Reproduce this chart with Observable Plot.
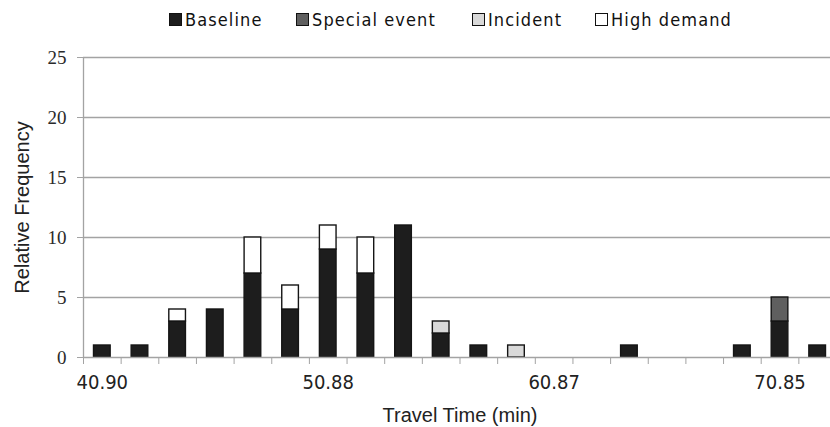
<!DOCTYPE html>
<html>
<head>
<meta charset="utf-8">
<script src="https://cdn.jsdelivr.net/npm/d3@7"></script>
<script src="https://cdn.jsdelivr.net/npm/@observablehq/plot@0.6"></script>
<style>
  html, body { margin: 0; padding: 0; background: #fff; }
  #wrap { width: 830px; height: 427px; overflow: hidden; position: relative; }
  #legend { position: relative; height: 38px; width: 830px; font-family: "DejaVu Sans Condensed", "DejaVu Sans", sans-serif; font-size: 18px; color: #111; }
  .item { position: absolute; top: 6px; display: flex; align-items: center; height: 26px; letter-spacing: 1.1px; }
  .sw { width: 11px; height: 11px; border: 1px solid #111; margin-right: 3px; box-sizing: content-box; }
  svg { display: block; overflow: hidden; }
</style>
</head>
<body>
<div id="wrap">
  <div id="legend"></div>
  <div id="chart"></div>
</div>
<script>
// ---- data ----
const bins = ["40.90","42.56","44.23","45.89","47.55","49.22","50.88","52.54","54.21","55.87",
              "57.54","59.20","60.87","62.53","64.19","65.86","67.52","69.18","70.85","72.51"];
const tickLabels = ["40.90","50.88","60.87","70.85"];
const seriesNames = ["Baseline","Special event","Incident","High demand"];
const baseline     = [1,1,3,4,7,4,9,7,11,2,1,0,0,0,1,0,0,1,3,1];
const specialEvent = [0,0,0,0,0,0,0,0,0,0,0,0,0,0,0,0,0,0,2,0];
const incident     = [0,0,0,0,0,0,0,0,0,1,0,1,0,0,0,0,0,0,0,0];
const highDemand   = [0,0,1,0,3,2,2,3,0,0,0,0,0,0,0,0,0,0,0,0];
const seriesColors = ["#1d1d1d","#5f5f5f","#d9d9d9","#ffffff"];
const yTicks = [0,5,10,15,20,25];
const xTitle = "Travel Time (min)";
const yTitle = "Relative Frequency";

// ---- build table ----
const seriesValues = [baseline, specialEvent, incident, highDemand];
const rows = [];
seriesNames.forEach((s, k) => {
  seriesValues[k].forEach((v, i) => {
    if (v > 0) rows.push({i, bin: bins[i], series: s, value: v});
  });
});

// ---- legend ----
const legendLefts = [169, 296, 472, 595];
const legend = document.getElementById("legend");
seriesNames.forEach((s, k) => {
  const it = document.createElement("div");
  it.className = "item";
  it.style.left = legendLefts[k] + "px";
  const sw = document.createElement("div");
  sw.className = "sw";
  sw.style.background = seriesColors[k];
  const tx = document.createElement("span");
  tx.textContent = s;
  it.appendChild(sw); it.appendChild(tx);
  legend.appendChild(it);
});

const grid = "#a3a3a3";
const chart = Plot.plot({
  width: 830,
  height: 389,
  marginTop: 19,
  marginBottom: 70,
  marginLeft: 83,
  marginRight: -6,
  x: {domain: [0, bins.length]},
  y: {domain: [0, 25]},
  color: {domain: seriesNames, range: seriesColors},
  marks: [
    Plot.ruleY(yTicks.filter(d => d > 0), {stroke: grid, strokeWidth: 1.3}),
    Plot.axisY({ticks: yTicks, tickSize: 6, tickPadding: 11, label: null,
                fontSize: 19, fontFamily: "Liberation Serif", stroke: grid, fill: "#2a2a2a"}),
    Plot.axisX({ticks: d3.range(0, bins.length + 1), tickFormat: () => "", tickSize: 7,
                label: null, stroke: grid}),
    Plot.axisX({ticks: tickLabels.map(t => bins.indexOf(t) + 0.5), tickFormat: d => bins[d - 0.5],
                tickSize: 0, tickPadding: 17, label: null, fontSize: 20,
                fontFamily: "DejaVu Sans Condensed", fill: "#222"}),
    Plot.rectY(rows, {x: "i", interval: 1, y: "value", fill: "series",
                      insetLeft: 10.5, insetRight: 10.5, stroke: "#151515", strokeWidth: 1.4}),
    Plot.ruleY([0], {stroke: grid, strokeWidth: 1.3}),
    Plot.ruleX([0], {stroke: grid, strokeWidth: 1.3}),
    Plot.text([yTitle], {frameAnchor: "left", rotate: -90, dx: -61, textAnchor: "middle",
                         lineAnchor: "middle", fontSize: 20, fontFamily: "Liberation Sans", fill: "#222"}),
    Plot.text([xTitle], {frameAnchor: "bottom", dy: 58, textAnchor: "middle",
                         lineAnchor: "middle", fontSize: 20, fontFamily: "Liberation Sans", fill: "#222"})
  ]
});
document.getElementById("chart").appendChild(chart);
</script>
</body>
</html>
